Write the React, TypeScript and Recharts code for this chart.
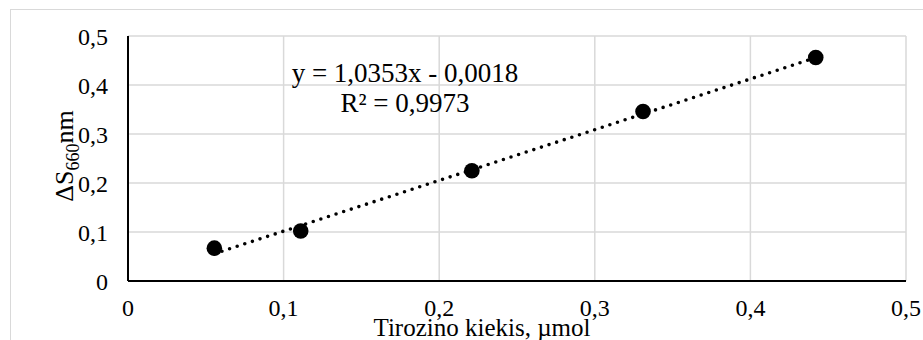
import { ScatterChart, Scatter, XAxis, YAxis, CartesianGrid } from 'recharts'

// measured samples
const tyrosine = [0.0555, 0.111, 0.221, 0.331, 0.442]
const deltaS = [0.067, 0.102, 0.225, 0.346, 0.456]
const axisTicks = [0, 0.1, 0.2, 0.3, 0.4, 0.5]

// linear trendline shown on the chart
const slope = 1.0353
const intercept = -0.0018
const r2 = 0.9973

const points = tyrosine.map((x, i) => ({ x, y: deltaS[i] }))
const trendEnds = [tyrosine[0], tyrosine[tyrosine.length - 1]]
const trend = trendEnds.map((x) => ({ x, y: slope * x + intercept }))

const FONT = 'Liberation Serif, Times New Roman, serif'
const fmt = (v: number) => String(v).replace('.', ',')
const fmtCoef = (v: number) => v.toFixed(4).replace('.', ',')

const Dot = (p: any) => <circle cx={p.cx} cy={p.cy} r={7.8} fill="#000" />
const NoDot = () => <g />

const XTick = ({ x, y, payload }: any) => (
  <text x={x} y={y} dy="0.71em" textAnchor="middle" fill="#000" style={{ fontFamily: FONT, fontSize: 24 }}>
    {fmt(payload.value)}
  </text>
)

const YTick = ({ x, y, payload }: any) => (
  <text x={x} y={y} dy="0.355em" textAnchor="end" fill="#000" style={{ fontFamily: FONT, fontSize: 24 }}>
    {fmt(payload.value)}
  </text>
)

const YLabel = () => (
  <text
    transform="translate(73,156) rotate(-90)"
    textAnchor="middle"
    style={{ fontFamily: FONT, fontSize: 26 }}
    fill="#000"
  >
    ΔS
    <tspan fontSize={18} dy={6}>660</tspan>
    <tspan dy={-6}>nm</tspan>
  </text>
)

const App = () => {
  return (
    <div
      style={{
        position: 'absolute',
        left: 0,
        top: 0,
        width: 923,
        height: 340,
        background: '#fff',
        fontFamily: FONT,
        overflow: 'hidden'
      }}
    >
      <div
        style={{
          position: 'absolute',
          left: 10,
          top: 9,
          width: 940,
          height: 360,
          borderTop: '1.5px solid #d9d9d9',
          borderLeft: '1.5px solid #d9d9d9'
        }}
      />
      <ScatterChart
        width={923}
        height={340}
        margin={{ top: 36, right: 17, bottom: 0, left: 0 }}
        style={{ position: 'absolute', left: 0, top: 0, fontFamily: FONT }}
      >
        <CartesianGrid stroke="#d9d9d9" strokeWidth={1.5} />
        <XAxis
          type="number"
          dataKey="x"
          domain={[0, 0.5]}
          ticks={axisTicks}
          height={59}
          tickLine={false}
          tickMargin={12}
          axisLine={{ stroke: '#000', strokeWidth: 2 }}
          tick={XTick}
          label={{
            value: 'Tirozino kiekis, µmol',
            position: 'insideBottom',
            offset: 4,
            dx: -35,
            fill: '#000',
            fontSize: 25,
            style: { fontFamily: FONT }
          }}
        />
        <YAxis
          type="number"
          dataKey="y"
          domain={[0, 0.5]}
          ticks={axisTicks}
          width={128}
          tickLine={false}
          tickMargin={14}
          axisLine={{ stroke: '#000', strokeWidth: 2 }}
          tick={YTick}
          label={{ content: YLabel }}
        />
        <Scatter
          data={trend}
          fill="#000"
          line={{ stroke: '#000', strokeWidth: 3.6, strokeDasharray: '0 8', strokeLinecap: 'round' }}
          shape={NoDot}
          isAnimationActive={false}
        />
        <Scatter data={points} fill="#000" shape={Dot} isAnimationActive={false} />
      </ScatterChart>
      <div
        style={{
          position: 'absolute',
          left: 255,
          top: 58,
          width: 300,
          textAlign: 'center',
          fontSize: 27,
          lineHeight: '30px',
          color: '#000'
        }}
      >
        <div>y = {fmtCoef(slope)}x - {fmtCoef(Math.abs(intercept))}</div>
        <div>R² = {fmtCoef(r2)}</div>
      </div>
    </div>
  )
}

export default App
